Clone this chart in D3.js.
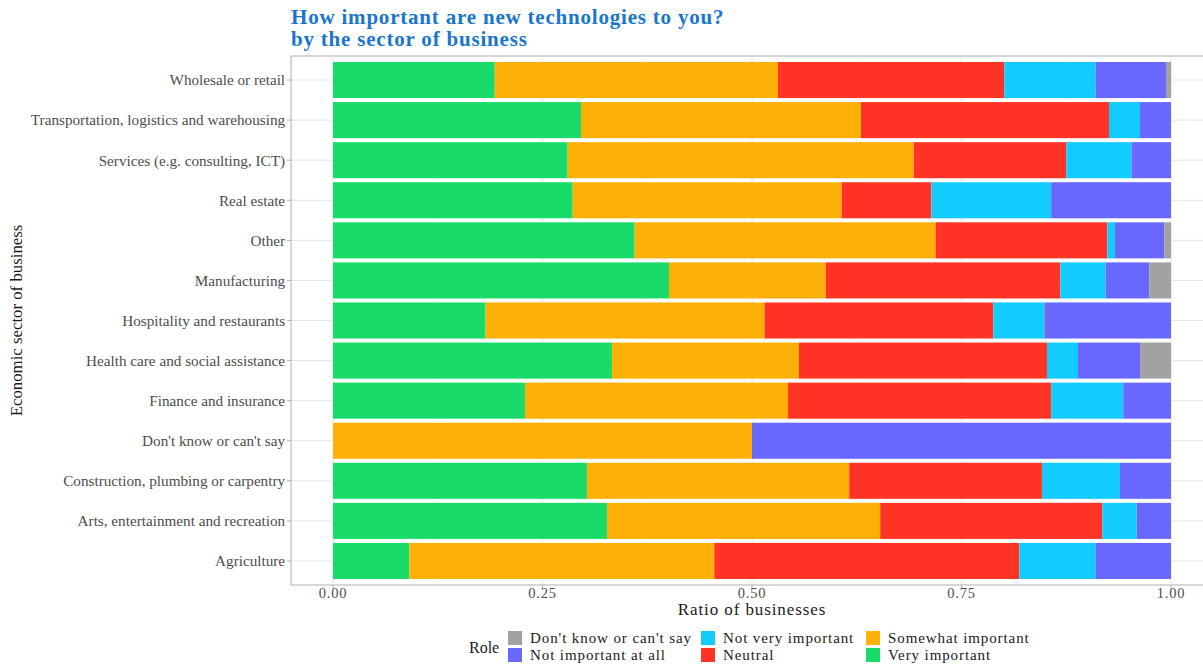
<!DOCTYPE html>
<html><head><meta charset="utf-8">
<script src="https://cdn.jsdelivr.net/npm/d3@7"></script>
<style>body{margin:0;background:#fff}svg{display:block}text{font-family:"Liberation Serif",serif}</style>
</head><body><svg id="c" width="1203" height="664"></svg>
<script>
const categories = ["Wholesale or retail","Transportation, logistics and warehousing","Services (e.g. consulting, ICT)","Real estate","Other","Manufacturing","Hospitality and restaurants","Health care and social assistance","Finance and insurance","Don't know or can't say","Construction, plumbing or carpentry","Arts, entertainment and recreation","Agriculture"];
const roles = ["Very important","Somewhat important","Neutral","Not very important","Not important at all","Don't know or can't say"];
const roleColors = ["#18db6a","#ffb007","#ff3424","#13ccff","#6868ff","#a0a2a3"];
const veryImportant     = [0.193,0.296,0.280,0.286,0.360,0.401,0.182,0.333,0.229,0.000,0.303,0.327,0.091];
const somewhatImportant = [0.338,0.334,0.413,0.321,0.359,0.187,0.333,0.223,0.314,0.500,0.313,0.326,0.364];
const neutral           = [0.270,0.296,0.182,0.107,0.205,0.280,0.273,0.296,0.314,0.000,0.230,0.265,0.364];
const notVeryImportant  = [0.109,0.037,0.078,0.143,0.009,0.054,0.061,0.037,0.086,0.000,0.093,0.041,0.091];
const notImportantAtAll = [0.084,0.037,0.047,0.143,0.059,0.052,0.151,0.074,0.057,0.500,0.061,0.041,0.090];
const dontKnow          = [0.006,0.000,0.000,0.000,0.008,0.026,0.000,0.037,0.000,0.000,0.000,0.000,0.000];
const xTicks = [0,0.25,0.5,0.75,1];
const xTickLabels = ["0.00","0.25","0.50","0.75","1.00"];
const legendOrder = ["Don't know or can't say","Not important at all","Not very important","Neutral","Somewhat important","Very important"];

const series = [veryImportant,somewhatImportant,neutral,notVeryImportant,notImportantAtAll,dontKnow];
const rows = categories.map((c,i)=>{const o={cat:c}; roles.forEach((r,j)=>o[r]=series[j][i]); return o;});
const stacked = d3.stack().keys(roles)(rows);

const svg = d3.select("#c");
svg.append("rect").attr("width",1203).attr("height",664).attr("fill","#fff");
const x = d3.scaleLinear().domain([0,1]).range([333,1171]);
const pL = x(-0.05), pR = x(1.05), pT = 56, pB = 585;
const y = d3.scaleBand().domain(categories).range([pT,pB]).paddingInner(0.1).paddingOuter(0.15);
const color = d3.scaleOrdinal().domain(roles).range(roleColors);

const g = svg.append("g");
const minor = [0.125,0.375,0.625,0.875];
g.selectAll(".mg").data(minor).join("line").attr("x1",d=>x(d)).attr("x2",d=>x(d)).attr("y1",pT).attr("y2",pB).attr("stroke","#f2f2f2").attr("stroke-width",0.6);
g.selectAll(".vg").data(xTicks).join("line").attr("x1",d=>x(d)).attr("x2",d=>x(d)).attr("y1",pT).attr("y2",pB).attr("stroke","#e6e6e6").attr("stroke-width",1);
g.selectAll(".hg").data(categories).join("line").attr("x1",pL).attr("x2",pR).attr("y1",d=>y(d)+y.bandwidth()/2).attr("y2",d=>y(d)+y.bandwidth()/2).attr("stroke","#e6e6e6").attr("stroke-width",1);

svg.append("g").selectAll("g").data(stacked).join("g").attr("fill",d=>color(d.key))
  .selectAll("rect").data(d=>d).join("rect")
  .attr("x",d=>x(d[0])).attr("width",d=>Math.max(0,x(d[1])-x(d[0])))
  .attr("y",d=>y(d.data.cat)).attr("height",y.bandwidth());

svg.append("rect").attr("x",pL).attr("y",pT).attr("width",pR-pL).attr("height",pB-pT).attr("fill","none").attr("stroke","#bdbdbd").attr("stroke-width",1.2);

const ya = svg.append("g");
categories.forEach(c=>{
  const cy = y(c)+y.bandwidth()/2;
  ya.append("line").attr("x1",pL-4).attr("x2",pL).attr("y1",cy).attr("y2",cy).attr("stroke","#b3b3b3");
  ya.append("text").attr("x",pL-6).attr("y",cy).attr("dy","0.35em").attr("text-anchor","end").attr("font-size",15.2).attr("fill","#4d4d4d").text(c);
});
xTicks.forEach((t,i)=>{
  svg.append("line").attr("x1",x(t)).attr("x2",x(t)).attr("y1",pB).attr("y2",pB+4).attr("stroke","#b3b3b3");
  svg.append("text").attr("x",x(t)).attr("y",598).attr("text-anchor","middle").attr("font-size",14.5).attr("letter-spacing",0.8).attr("fill","#4d4d4d").text(xTickLabels[i]);
});
svg.append("text").attr("x",(pL+pR)/2).attr("y",615).attr("text-anchor","middle").attr("font-size",17).attr("letter-spacing",0.9).attr("fill","#1a1a1a").text("Ratio of businesses");
svg.append("text").attr("transform",`translate(22,${(pT+pB)/2}) rotate(-90)`).attr("text-anchor","middle").attr("font-size",16.8).attr("fill","#1a1a1a").text("Economic sector of business");

svg.append("text").attr("x",291).attr("y",24).attr("font-size",21).attr("letter-spacing",0.8).attr("font-weight","bold").attr("fill","#1a76cc").text("How important are new technologies to you?");
svg.append("text").attr("x",291).attr("y",46).attr("font-size",21).attr("letter-spacing",0.8).attr("font-weight","bold").attr("fill","#1a76cc").text("by the sector of business");

const lg = svg.append("g");
lg.append("text").attr("x",469).attr("y",653).attr("font-size",16).attr("fill","#1a1a1a").text("Role");
const colX = [508,701,866];
legendOrder.forEach((r,i)=>{
  const col = Math.floor(i/2), row = i%2;
  const kx = colX[col], ky = 631 + row*17;
  lg.append("rect").attr("x",kx).attr("y",ky).attr("width",14).attr("height",14).attr("fill",color(r));
  lg.append("text").attr("x",kx+22).attr("y",ky+12).attr("font-size",15).attr("letter-spacing",0.9).attr("fill","#1a1a1a").text(r);
});
</script></body></html>
